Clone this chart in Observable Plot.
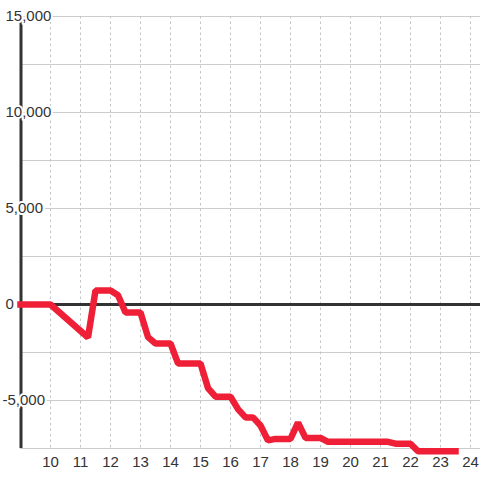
<!DOCTYPE html>
<html>
<head>
<meta charset="utf-8">
<script src="https://cdn.jsdelivr.net/npm/d3@7"></script>
<script src="https://cdn.jsdelivr.net/npm/@observablehq/plot@0.6"></script>
<style>
  html, body { margin: 0; padding: 0; background: #ffffff; }
  #chart { width: 480px; height: 480px; }
</style>
</head>
<body>
<div id="chart"></div>
<script>
// Data (hour of day, value)
const hours  = [9, 10, 11.25, 11.5, 12, 12.25, 12.5, 13, 13.25, 13.5, 14, 14.25, 15, 15.25, 15.5, 16, 16.25, 16.5, 16.75, 17, 17.25, 17.5, 18, 18.25, 18.5, 19, 19.25, 21.25, 21.5, 22, 22.25, 23.5];
const values = [0, 0, -1720, 730, 730, 480, -420, -420, -1700, -2030, -2030, -3070, -3070, -4350, -4800, -4800, -5450, -5880, -5880, -6300, -7080, -7000, -7000, -6150, -6950, -6950, -7150, -7150, -7250, -7250, -7640, -7640];

// Axis ticks
const xTicks = [10, 11, 12, 13, 14, 15, 16, 17, 18, 19, 20, 21, 22, 23, 24];
const yGrid = [-7500, -5000, -2500, 2500, 5000, 7500, 10000, 12500, 15000];
const yLabels = [15000, 10000, 5000, 0, -5000];

const data = hours.map((h, i) => ({hour: h, value: values[i]}));
const fmt = d => d.toLocaleString("en-US");

const chart = Plot.plot({
  width: 480,
  height: 480,
  marginLeft: 20,
  marginRight: 0,
  marginTop: 16,
  marginBottom: 32,
  style: {fontFamily: "'Liberation Sans', Arial, sans-serif", background: "#ffffff"},
  x: {domain: [9, 24 + 1/3], axis: null, label: null},
  y: {domain: [-7500, 15000], axis: null, label: null},
  marks: [
    Plot.ruleY(yGrid, {stroke: "#cccccc", strokeWidth: 1}),
    Plot.ruleX(xTicks, {stroke: "#c4c4c4", strokeWidth: 1, strokeDasharray: "2.5,3"}),
    Plot.ruleY([0], {stroke: "#333333", strokeWidth: 3}),
    Plot.ruleX([9], {stroke: "#333333", strokeWidth: 3, dx: 0.5}),
    Plot.axisX(xTicks, {tickSize: 0, tickPadding: 8, fontSize: 15, color: "#333333", label: null, tickFormat: d => String(d)}),
    Plot.text(yLabels.filter(d => d >= 0), {
      x: 9, y: d => d, text: d => fmt(d), textAnchor: "start", dx: -15,
      fontSize: 15, fill: "#333333", stroke: "#ffffff", strokeWidth: 4, paintOrder: "stroke"
    }),
    Plot.text(yLabels.filter(d => d < 0), {
      x: 9, y: d => d, text: d => fmt(d), textAnchor: "start", dx: -18,
      fontSize: 15, fill: "#333333", stroke: "#ffffff", strokeWidth: 4, paintOrder: "stroke"
    }),
    Plot.line(data, {
      x: "hour", y: "value", stroke: "#ee1f36", strokeWidth: 6.5,
      strokeLinejoin: "miter", strokeLinecap: "square"
    })
  ]
});
document.getElementById("chart").appendChild(chart);
</script>
</body>
</html>
